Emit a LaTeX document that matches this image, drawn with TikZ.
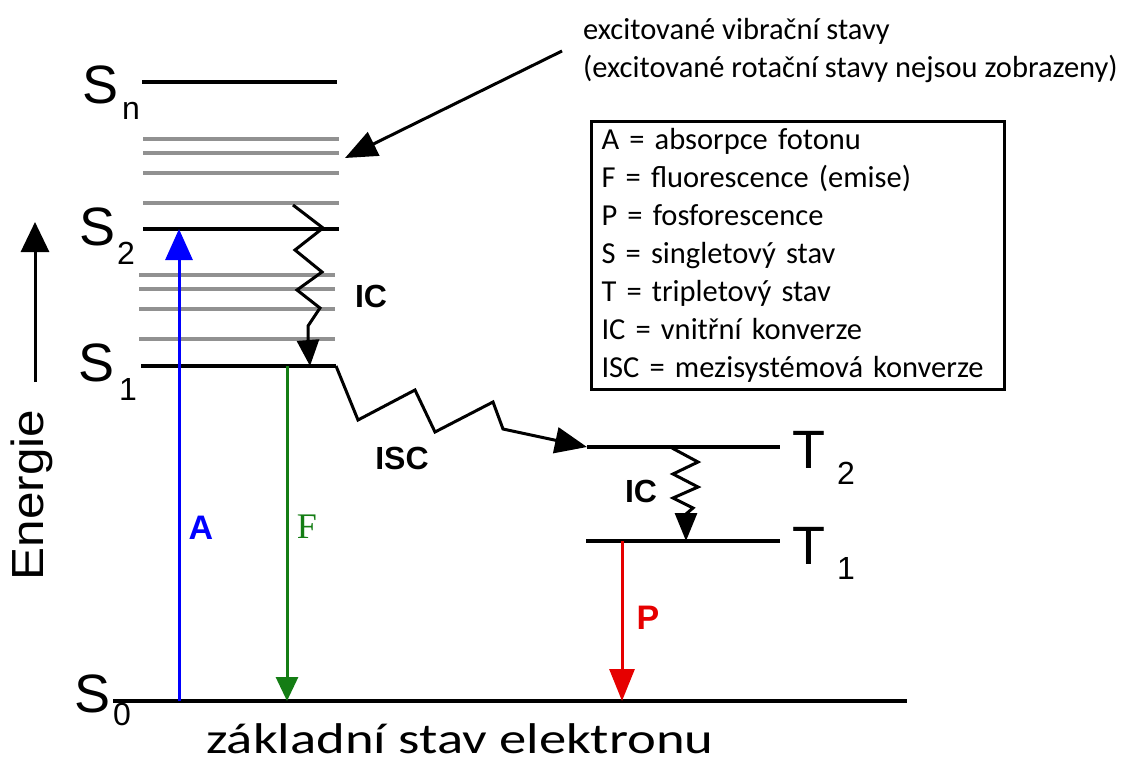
\documentclass[tikz,border=0pt]{standalone}
\usepackage{fontspec}
\setmainfont{Liberation Sans}
\newfontfamily\calfont{Carlito}
\newfontfamily\serfont{Liberation Serif}
\usetikzlibrary{arrows.meta}
\definecolor{lvgray}{RGB}{145,145,145}
\definecolor{fgreen}{RGB}{20,125,20}
\definecolor{pred}{RGB}{230,0,0}
\begin{document}
\begin{tikzpicture}[x=1pt,y=-1pt,
  level/.style={line width=3.3pt},
  vib/.style={line width=3.3pt,color=lvgray},
  trans/.style={line width=3pt},
  zig/.style={line width=3pt,line join=miter},
  slab/.style={inner sep=0pt,font=\fontsize{54}{54}\selectfont},
  sublab/.style={inner sep=0pt,font=\fontsize{32}{32}\selectfont},
  proc/.style={inner sep=0pt,font=\bfseries\fontsize{32}{32}\selectfont},
  legtext/.style={inner sep=0pt,align=left,font=\calfont\fontsize{30.5}{38}\selectfont}]
\useasboundingbox (0,0) rectangle (1147,765);
% coordinates of levels
\coordinate (snL) at (142,82);  \coordinate (snR) at (337,82);
\coordinate (s2L) at (143,229); \coordinate (s2R) at (339,229);
\coordinate (s1L) at (141,366); \coordinate (s1R) at (336,366);
\coordinate (s0L) at (113,701); \coordinate (s0R) at (907,701);
\coordinate (t2L) at (587,447); \coordinate (t2R) at (780,447);
\coordinate (t1L) at (586,541); \coordinate (t1R) at (780,541);
% vibrational levels
\foreach \y in {139,153,173,203} \draw[vib] (143,\y) -- (339,\y);
\foreach \y in {275,289,309,339} \draw[vib] (139,\y) -- (335,\y);
% electronic levels
\draw[level] (snL) -- (snR);
\draw[level] (s2L) -- (s2R);
\draw[level] (s1L) -- (s1R);
\draw[level] (s0L) -- (s0R);
\draw[level] (t2L) -- (t2R);
\draw[level] (t1L) -- (t1R);
% labels of levels
\node[slab,anchor=base west] (snS) at (82,103) {S};
\node[sublab,anchor=base west] (snSub) at (122,119) {n};
\node[slab,anchor=base west] (s2S) at (79,245) {S};
\node[sublab,anchor=base west] (s2Sub) at (117,264) {2};
\node[slab,anchor=base west] (s1S) at (78,381) {S};
\node[sublab,anchor=base west] (s1Sub) at (119,400) {1};
\node[slab,anchor=base west] (s0S) at (74,712) {S};
\node[sublab,anchor=base west] (s0Sub) at (113,725) {0};
\node[slab,anchor=base west] (t2T) at (792,468) {T};
\node[sublab,anchor=base west] (t2Sub) at (837,484) {2};
\node[slab,anchor=base west] (t1T) at (792,564) {T};
\node[sublab,anchor=base west] (t1Sub) at (837,579) {1};
% transitions
\coordinate (aB) at (179,701); \coordinate (aT) at (179,229);
\draw[trans,blue,-{Triangle[length=31pt,width=27pt]}] (aB) -- (aT);
\coordinate (fT) at (287,366); \coordinate (fB) at (287,701);
\draw[trans,fgreen,-{Triangle[length=24pt,width=22pt]}] (fT) -- (fB);
\coordinate (pT) at (622,541); \coordinate (pB) at (622,701);
\draw[trans,pred,-{Triangle[length=32pt,width=25pt]}] (pT) -- (pB);
\node[inner sep=0pt,blue,font=\bfseries\fontsize{34}{34}\selectfont] (alab) at (201,528) {A};
\node[inner sep=0pt,fgreen,font=\serfont\fontsize{36}{36}\selectfont] (flab) at (307,527) {F};
\node[inner sep=0pt,pred,font=\bfseries\fontsize{34}{34}\selectfont] (plab) at (648,618) {P};
% IC upper
\coordinate (ic1s) at (293,205);
\coordinate (ic1e) at (310,366);
\draw[zig,-{Triangle[length=26pt,width=22pt]}] (ic1s) -- (323,228) -- (295,250) -- (322,272) -- (297,290) -- (320,308) -- (308,326) -- (308,340) -- (ic1e);
\node[proc] (ic1lab) at (371,296) {IC};
% ISC
\draw[zig,-{Triangle[length=32pt,width=26pt]}] (s1R) -- (358,420) -- (415,390) -- (435,432) -- (493,402) -- (503,429) -- (t2L);
\node[proc] (isclab) at (402,458) {ISC};
% IC lower
\coordinate (ic2s) at (672,448);
\coordinate (ic2e) at (686,541);
\draw[zig,-{Triangle[length=28pt,width=22pt]}] (ic2s) -- (698,462) -- (673,474) -- (698,487) -- (673,498) -- (693,508) -- (686,514) -- (ic2e);
\node[proc] (ic2lab) at (641,491) {IC};
% energy axis
\coordinate (eB) at (35,382); \coordinate (eT) at (35,222);
\draw[line width=3pt,-{Triangle[length=30pt,width=28pt]}] (eB) -- (eT);
\node[inner sep=0pt,rotate=90,font=\fontsize{45}{45}\selectfont] (elab) at (32,495) {\scalebox{1.1}[1]{Energie}};
% annotation
\node[legtext,anchor=base west] (note1) at (583,40) {excitované vibrační stavy};
\node[legtext,anchor=base west] (note2) at (583,78) {(excitované rotační stavy nejsou zobrazeny)};
\coordinate (noteA) at (562,51); \coordinate (noteB) at (345,158);
\draw[line width=3pt,-{Triangle[length=32pt,width=26pt]}] (noteA) -- (noteB);
% legend
\node[draw,line width=3pt,anchor=north west,minimum width=413pt,minimum height=268pt,inner xsep=10pt,text width=393pt,legtext] (legend) at (590,120)
{A = absorpce fotonu\\F = fluorescence (emise)\\P = fosforescence\\S = singletový stav\\T = tripletový stav\\IC = vnitřní konverze\\ISC = mezisystémová konverze};
% ground state text
\node[inner sep=0pt,anchor=base west,font=\calfont\fontsize{43}{43}\selectfont] (gtext) at (206,753) {\scalebox{1.27}[1]{základní stav elektronu}};
\end{tikzpicture}
\end{document}
